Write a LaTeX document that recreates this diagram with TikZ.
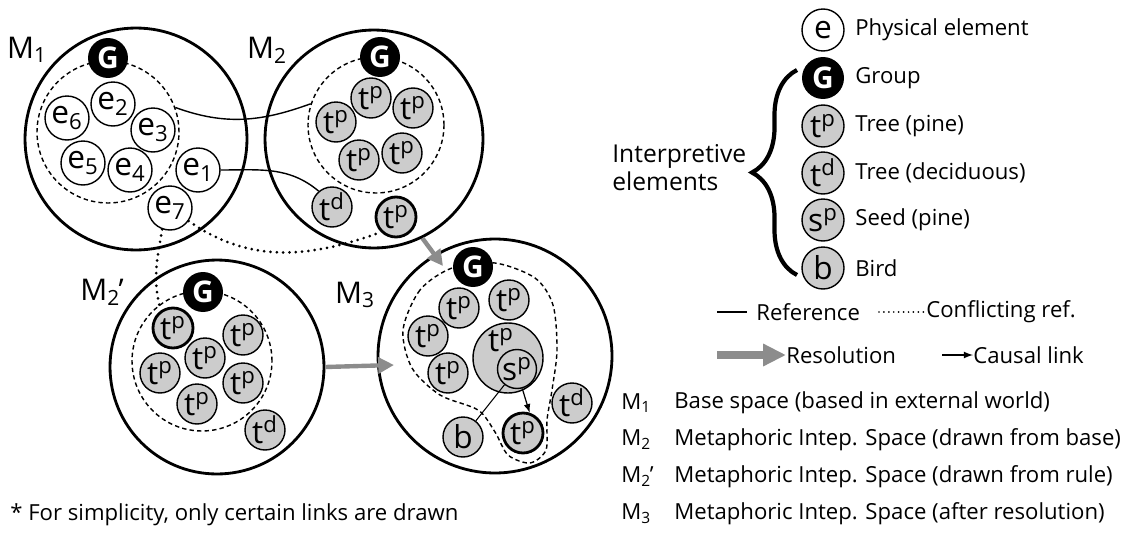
\documentclass[tikz,border=0pt]{standalone}
\usepackage{fontspec}
\setmainfont{Open Sans}
\usetikzlibrary{arrows.meta,decorations.pathreplacing}
\definecolor{treegray}{gray}{0.8}
\definecolor{resgray}{gray}{0.55}
\tikzset{
  space/.style={circle,draw,line width=1.6pt,inner sep=0pt},
  grpline/.style={circle,draw,dash pattern=on 2.5pt off 1.8pt,line width=0.8pt,inner sep=0pt},
  phys/.style={circle,draw,line width=0.8pt,fill=white,inner sep=0pt,minimum size=0.88cm,font=\fontsize{18}{18}\selectfont},
  interp/.style={circle,draw,line width=0.8pt,fill=treegray,inner sep=0pt,minimum size=0.8cm,font=\fontsize{18}{18}\selectfont},
  interpb/.style={interp,line width=1.6pt},
  grpnode/.style={circle,fill=black,inner sep=0pt,minimum size=0.8cm,text=white,font=\fontsize{17}{17}\selectfont\bfseries},
  mlbl/.style={font=\fontsize{17}{17}\selectfont},
  legtxt/.style={anchor=west,font=\fontsize{12.6}{12.6}\selectfont,inner sep=0pt},
  conflict/.style={line width=1.7pt,dash pattern=on 0pt off 3.6pt,line cap=round},
  resol/.style={resgray,line width=2.5pt,-{Triangle[length=9pt,width=9pt]}},
}
\newcommand{\tp}{t\textsuperscript{p}}
\newcommand{\td}{t\textsuperscript{d}}
\begin{document}
\begin{tikzpicture}[x=0.02cm,y=-0.02cm]
\useasboundingbox (0,0) rectangle (1135,534);

% spaces
\node[space,minimum size=4.44cm] (m1) at (136,139) {};
\node[space,minimum size=4.36cm] (m2) at (374,139) {};
\node[space,minimum size=4.28cm] (m2r) at (217,367) {};
\node[space,minimum size=4.68cm] (m3) at (495,356) {};
\node[mlbl] (m1lbl) at (27,50) {M\textsubscript{1}};
\node[mlbl] (m2lbl) at (267,50) {M\textsubscript{2}};
\node[mlbl] (m2rlbl) at (102,292) {M\textsubscript{2}\kern-0.05em’};
\node[mlbl] (m3lbl) at (355,295) {M\textsubscript{3}};

% groups
\node[grpline,minimum size=2.84cm] (g1) at (108,132) {};
\node[grpline,minimum size=2.72cm] (g2) at (376,125) {};
\node[grpline,minimum size=2.8cm] (g2r) at (202,361) {};
\draw[dash pattern=on 2.5pt off 1.8pt,line width=0.8pt] plot[smooth cycle] coordinates {(452,268) (420,290) (403,330) (412,368) (440,395) (478,410) (495,432) (508,455) (530,463) (546,450) (547,420) (552,390) (557,350) (553,305) (535,278) (495,263)};

% M1
\node[grpnode] (G1) at (108,58) {G};
\node[phys] (e2) at (113,104) {e\textsubscript{2}};
\node[phys] (e6) at (67,118) {e\textsubscript{6}};
\node[phys] (e3) at (153,130) {e\textsubscript{3}};
\node[phys] (e5) at (83,163) {e\textsubscript{5}};
\node[phys] (e4) at (130,170) {e\textsubscript{4}};
\node[phys] (e1) at (198,170) {e\textsubscript{1}};
\node[phys] (e7) at (170,208) {e\textsubscript{7}};

% M2
\node[grpnode] (G2) at (380,57) {G};
\node[interp] (a1) at (371,98) {\tp};
\node[interp] (a2) at (413,108) {\tp};
\node[interp] (a3) at (336,122) {\tp};
\node[interp] (a4) at (359,160) {\tp};
\node[interp] (a5) at (402,153) {\tp};
\node[interp] (atd) at (332,207) {\td};
\node[interpb] (ab) at (396,217) {\tp};

% M2'
\node[grpnode] (G2r) at (203,292) {G};
\node[interpb] (bb) at (173,328) {\tp};
\node[interp] (b1) at (243,335) {\tp};
\node[interp] (b2) at (160,373) {\tp};
\node[interp] (b3) at (205,358) {\tp};
\node[interp] (b4) at (243,383) {\tp};
\node[interp] (b5) at (197,404) {\tp};
\node[interp] (btd) at (265,430) {\td};

% M3
\node[grpnode] (G3) at (473,267) {G};
\node[interp] (c1) at (459,308) {\tp};
\node[interp] (c2) at (509,300) {\tp};
\node[interp] (c3) at (428,336) {\tp};
\node[interp] (c4) at (448,373) {\tp};
\node[interp,minimum size=1.4cm] (cbig) at (508,358) {};
\node[font=\fontsize{18}{18}\selectfont] (cbiglbl) at (501,340) {\tp};
\node[interp,minimum size=0.78cm] (seed) at (517,369) {s\textsuperscript{p}};
\node[interp] (ctd) at (572,403) {\td};
\node[interp] (bird) at (463,437) {b};
\node[interpb] (cb) at (523,433) {\tp};

% links
\draw[line width=0.8pt] (g1.20) to[out=-20,in=200] (g2.162);
\draw[line width=0.8pt] (e1.east) to[out=0,in=140] (atd.130);
\draw[conflict] (e7.-35) to[out=-35,in=200] (ab.225);
\draw[conflict] (e7.250) to[out=-100,in=105] (bb.125);
\draw[line width=0.6pt] (seed) -- (bird);
\draw[line width=0.7pt,-latex] (seed.285) -- (cb.72);
\coordinate (r1) at (443,266);
\coordinate (r2) at (394,365);
\draw[resol] (m2.-64) -- (r1);
\draw[resol] (m2r.east) -- (r2);

% legend
\node[phys,minimum size=0.84cm] (le) at (823,30) {e};
\node[grpnode,minimum size=0.84cm] (lG) at (823,78) {G};
\node[interp,minimum size=0.84cm] (ltp) at (823,126) {\tp};
\node[interp,minimum size=0.84cm] (ltd) at (823,173) {\td};
\node[interp,minimum size=0.84cm] (lsp) at (823,220) {s\textsuperscript{p}};
\node[interp,minimum size=0.84cm] (lb) at (823,268) {b};
\node[legtxt] (tle) at (855,30) {Physical element};
\node[legtxt] (tlG) at (855,78) {Group};
\node[legtxt] (tltp) at (855,126) {Tree (pine)};
\node[legtxt] (tltd) at (855,173) {Tree (deciduous)};
\node[legtxt] (tlsp) at (855,220) {Seed (pine)};
\node[legtxt] (tlb) at (855,268) {Bird};
\draw[decorate,decoration={brace,amplitude=0.9cm},line width=2.4pt] (797,275) -- (797,70);
\node[legtxt,align=left,font=\fontsize{14}{16}\selectfont] (tint) at (612,168) {Interpretive\\elements};

\coordinate (lref) at (717,312);
\node[legtxt] (tref) at (756,312) {Reference};
\draw[line width=1.3pt,shorten >=5pt] (lref) -- (tref.west);
\coordinate (lconf) at (879,312);
\node[legtxt] (tconf) at (926,312) {Conflicting ref.};
\draw[conflict,line width=1.1pt,dash pattern=on 0pt off 2.8pt] (lconf) -- (tconf.west);
\coordinate (lres) at (717,355);
\node[legtxt] (tres) at (786,355) {Resolution};
\draw[resgray,line width=4pt,-{Triangle[length=13pt,width=12pt]}] (lres) -- (tres.west);
\coordinate (lcau) at (942,355);
\node[legtxt] (tcau) at (973,355) {Causal link};
\draw[line width=0.8pt,-latex] (lcau) -- (tcau.west);

\node[legtxt] (k1) at (621,403) {M\textsubscript{1}};
\node[legtxt] (k2) at (621,440) {M\textsubscript{2}};
\node[legtxt] (k2r) at (621,477) {M\textsubscript{2}\kern-0.05em’};
\node[legtxt] (k3) at (621,514) {M\textsubscript{3}};
\node[legtxt] (d1) at (674,403) {Base space (based in external world)};
\node[legtxt] (d2) at (674,440) {Metaphoric Intep. Space (drawn from base)};
\node[legtxt] (d2r) at (674,477) {Metaphoric Intep. Space (drawn from rule)};
\node[legtxt] (d3) at (674,514) {Metaphoric Intep. Space (after resolution)};

\node[legtxt] (foot) at (10,515) {* For simplicity, only certain links are drawn};
\end{tikzpicture}
\end{document}
